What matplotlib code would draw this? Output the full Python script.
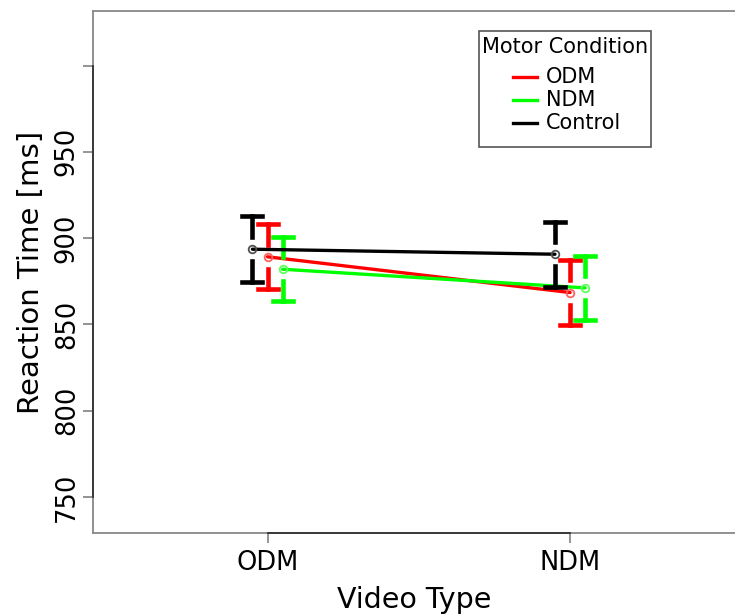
import numpy as np
import matplotlib
matplotlib.use('Agg')
import matplotlib.pyplot as plt
from matplotlib.patches import Rectangle
from matplotlib.lines import Line2D

# Data
video_types = ['ODM', 'NDM']
groups = ['ODM', 'NDM', 'Control']
colors = ['#ff0000', '#00ff00', '#000000']
edge_colors = ['#ff6060', '#60ff60', '#505050']
offsets = [0.0, 0.05, -0.05]

odm_mean = [889.2, 868.5]
odm_se = [18.8, 18.8]
ndm_mean = [882.0, 871.2]
ndm_se = [18.6, 18.5]
ctrl_mean = [893.6, 890.7]
ctrl_se = [19.0, 18.7]

means = [odm_mean, ndm_mean, ctrl_mean]
ses = [odm_se, ndm_se, ctrl_se]

y_ticks = [750, 800, 850, 900, 950, 1000]
y_labels = ['750', '800', '850', '900', '950', '']

ERR_GAP = 7.0
CAP_HALF = 0.033
W, H = 735, 615

fig = plt.figure(figsize=(W / 100, H / 100), dpi=100)
ax = fig.add_axes([93 / W, 82 / H, 1 - 93 / W, 522 / H])

x = np.array([1, 2])
for i, g in enumerate(groups):
    xs = x + offsets[i]
    m = np.array(means[i])
    s = np.array(ses[i])
    ax.plot(xs, m, color=colors[i], lw=2.4, zorder=3 + i, solid_capstyle='round')
    ax.plot(xs, m, 'o', ms=5.5, mfc='none', mec=edge_colors[i], mew=1.3, zorder=3 + i)
    # error bars with a gap around the mean
    for xx, mm, ss in zip(xs, m, s):
        ax.plot([xx, xx], [mm + ERR_GAP, mm + ss], color=colors[i], lw=3.3, zorder=3 + i)
        ax.plot([xx, xx], [mm - ERR_GAP, mm - ss], color=colors[i], lw=3.3, zorder=3 + i)
        ax.plot([xx - CAP_HALF, xx + CAP_HALF], [mm + ss, mm + ss], color=colors[i], lw=3.3, zorder=3 + i)
        ax.plot([xx - CAP_HALF, xx + CAP_HALF], [mm - ss, mm - ss], color=colors[i], lw=3.3, zorder=3 + i)

ax.set_xlim(0.423, 2.545)
ax.set_ylim(729.2, 1031.6)

ax.set_xticks(x)
ax.set_xticklabels(video_types, fontsize=18.5)
ax.set_yticks(y_ticks)
ax.set_yticklabels(y_labels, fontsize=18.5, rotation=90, va='center')
ax.tick_params(axis='both', length=7.5, width=1.1, color='#777777')
ax.tick_params(axis='y', pad=2)
ax.tick_params(axis='x', pad=5)

for side in ['left', 'top', 'bottom']:
    ax.spines[side].set_color('#888888')
    ax.spines[side].set_linewidth(1.3)
ax.spines['right'].set_visible(False)

# darker axis lines between the outer ticks, R style
ax.plot([0, 0], [750, 1000], color='#333333', lw=1.3, transform=ax.get_yaxis_transform(),
        clip_on=False, zorder=10)
ax.plot([1, 2], [0, 0], color='#333333', lw=1.3, transform=ax.get_xaxis_transform(),
        clip_on=False, zorder=10)

ax.set_xlabel('Video Type', fontsize=20.5, labelpad=7)
ax.set_ylabel('Reaction Time [ms]', fontsize=21, labelpad=6)

# legend drawn by hand to match the R layout
def fx(px):
    return px / W

def fy(py):
    return 1 - py / H

fig.patches.append(Rectangle((fx(479), fy(147)), fx(651) - fx(479), fy(31) - fy(147),
                             transform=fig.transFigure, fc='white', ec='#555555', lw=1.2,
                             zorder=20))
fig.text(fx(565), fy(47), 'Motor Condition', fontsize=15, ha='center', va='center', zorder=21)
row_y = [77, 100, 123]
for c, g, ry in zip(colors, groups, row_y):
    fig.lines.append(Line2D([fx(513), fx(537)], [fy(ry), fy(ry)], color=c, lw=2.4,
                            transform=fig.transFigure, zorder=21))
    fig.text(fx(546), fy(ry), g, fontsize=15, ha='left', va='center', zorder=21)

fig.savefig('out.png', dpi=100)
